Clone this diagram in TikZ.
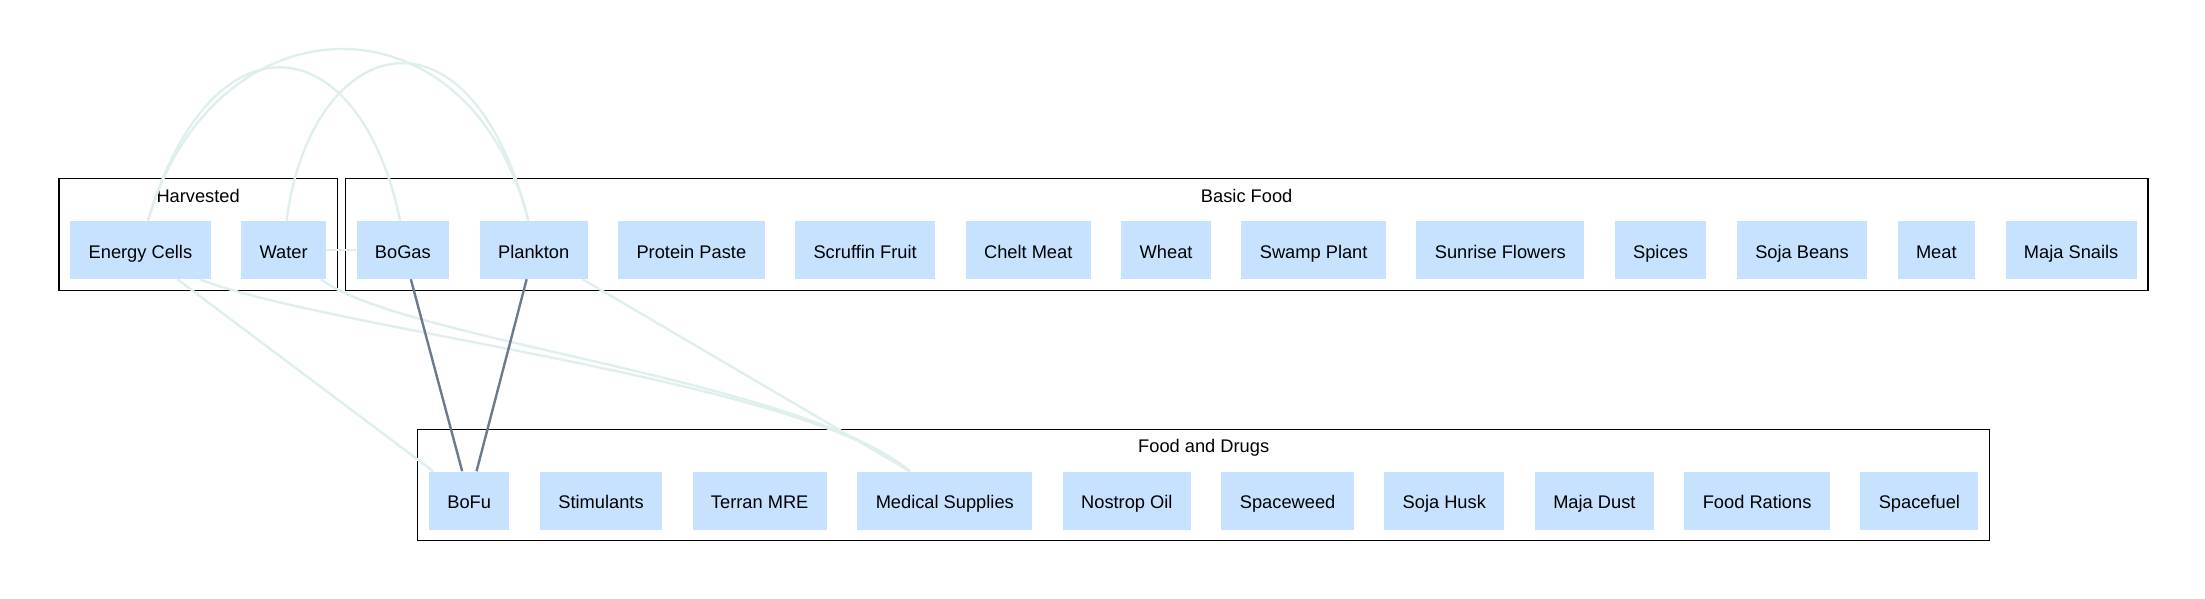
\documentclass[tikz,border=0pt]{standalone}
\usepackage{fontspec}
\setmainfont{Liberation Sans}
\usepackage{tikz}
\usetikzlibrary{positioning,fit,backgrounds}

\definecolor{boxfill}{HTML}{C6E2FF}
\definecolor{linklight}{HTML}{E0EEEE}
\definecolor{linkdark}{HTML}{6C7B8B}

\begin{document}
\begin{tikzpicture}[x=0.75pt,y=-0.75pt,node distance=22.5pt,
  item/.style={rectangle,fill=boxfill,minimum height=43.5pt,minimum width=54pt,inner xsep=13.8pt,
    text height=12.6pt,text depth=0pt,font=\fontsize{13.7}{16}\selectfont},
  cluster/.style={draw=black,line width=0.9pt,inner sep=8.25pt},
  clabel/.style={anchor=base,font=\fontsize{13.7}{16}\selectfont},
  light/.style={draw=linklight,line width=1.8pt},
  dark/.style={draw=linkdark,line width=1.8pt}]
\useasboundingbox (0,0) rectangle (2205,599);
% top row
\node[item,anchor=west] (ecells) at (70,250) {Energy Cells};
\node[item] (water)    [right=of ecells]   {Water};
\node[item] (bogas)    [right=of water]    {BoGas};
\node[item] (plankton) [right=of bogas]    {Plankton};
\node[item] (paste)    [right=of plankton] {Protein Paste};
\node[item] (scruffin) [right=of paste]    {Scruffin Fruit};
\node[item] (chelt)    [right=of scruffin] {Chelt Meat};
\node[item] (wheat)    [right=of chelt]    {Wheat};
\node[item] (swamp)    [right=of wheat]    {Swamp Plant};
\node[item] (sunrise)  [right=of swamp]    {Sunrise Flowers};
\node[item] (spices)   [right=of sunrise]  {Spices};
\node[item] (sojab)    [right=of spices]   {Soja Beans};
\node[item] (meat)     [right=of sojab]    {Meat};
\node[item] (snails)   [right=of meat]     {Maja Snails};
% bottom row
\node[item,anchor=west] (bofu) at (428.7,500.5) {BoFu};
\node[item] (stims)    [right=of bofu]     {Stimulants};
\node[item] (mre)      [right=of stims]    {Terran MRE};
\node[item] (medical)  [right=of mre]      {Medical Supplies};
\node[item] (nostrop)  [right=of medical]  {Nostrop Oil};
\node[item] (weed)     [right=of nostrop]  {Spaceweed};
\node[item] (husk)     [right=of weed]     {Soja Husk};
\node[item] (dust)     [right=of husk]     {Maja Dust};
\node[item] (rations)  [right=of dust]     {Food Rations};
\node[item] (fuel)     [right=of rations]  {Spacefuel};
% room for the cluster titles
\coordinate (htop) at ([yshift=23.25pt]ecells.north);
\coordinate (btop) at ([yshift=23.25pt]bogas.north);
\coordinate (dtop) at ([yshift=23.25pt]bofu.north);

\begin{scope}[on background layer]
% clusters
\node[cluster,fit=(ecells)(water)(htop)] (harvested) {};
\node[cluster,fit=(bogas)(snails)(btop)] (basic) {};
\node[cluster,fit=(bofu)(fuel)(dtop)] (drugs) {};
\node[clabel] at ([yshift=-17.9pt]harvested.north) {Harvested};
\node[clabel] at ([yshift=-17.9pt]basic.north) {Basic Food};
\node[clabel] at ([yshift=-17.9pt]drugs.north) {Food and Drugs};
% links
\path[light] (water) edge (bogas);
\draw[light] ([xshift=5.6pt]ecells.north) .. controls +(63,-212) and +(-41,-197) .. ([xshift=-2pt]bogas.north);
\draw[light] ([xshift=5.6pt]ecells.north) .. controls +(66,-226) and +(-59,-232) .. ([xshift=-3.9pt]plankton.north);
\draw[light] ([xshift=2.25pt]water.north) .. controls +(24,-187) and +(-59,-232) .. ([xshift=-3.9pt]plankton.north);
\path[light] ([xshift=27.75pt]ecells.south) edge ([xshift=-27pt]bofu.north);
\draw[light] ([xshift=44.25pt]ecells.south) .. controls +(131.5,51) and +(-110,-92) .. ([xshift=-26.25pt]medical.north);
\draw[light] ([xshift=28pt]water.south) .. controls +(80,61) and +(-110,-92) .. ([xshift=-26.25pt]medical.north);
\path[light] ([xshift=36.75pt]plankton.south) edge ([xshift=-26.25pt]medical.north);
\path[dark] ([xshift=6pt]bogas.south) edge ([xshift=-5.25pt]bofu.north)
   ([xshift=-5.25pt]plankton.south) edge ([xshift=5.5pt]bofu.north);
\end{scope}
\end{tikzpicture}
\end{document}
